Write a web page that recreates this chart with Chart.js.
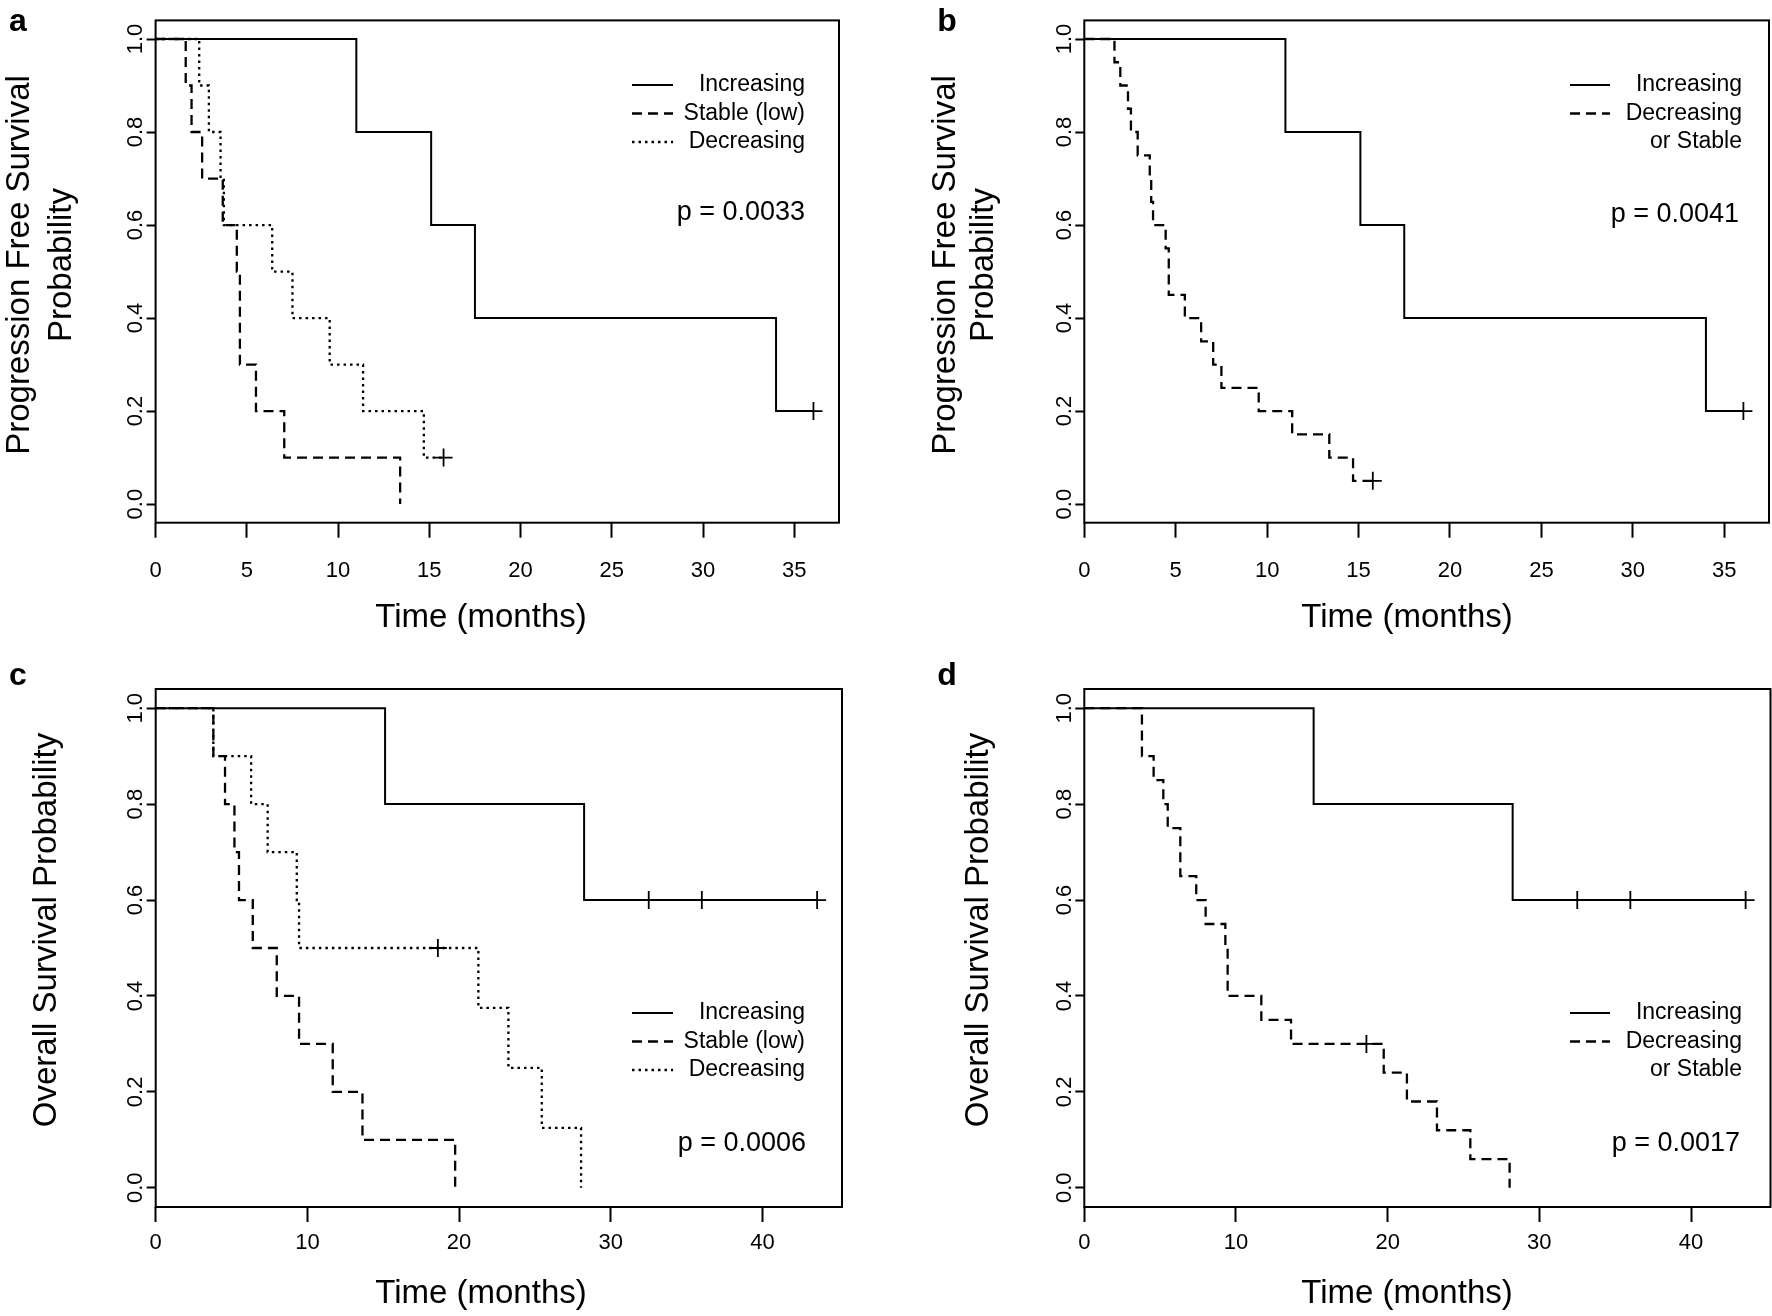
<!DOCTYPE html>
<html>
<head>
<meta charset="utf-8">
<title>Kaplan-Meier curves</title>
<script src="https://cdn.jsdelivr.net/npm/chart.js@4.4.1/dist/chart.umd.min.js"></script>
<style>
  html, body { margin: 0; padding: 0; background: #fff; }
  #wrap { position: relative; width: 1772px; height: 1316px; background: #fff; }
  .panel { position: absolute; width: 886px; height: 658px; }
  .panel canvas { display: block; }
</style>
</head>
<body>
<div id="wrap">
  <div class="panel" style="left:0;top:0"><canvas id="chart-a" width="886" height="658"></canvas></div>
  <div class="panel" style="left:886px;top:0"><canvas id="chart-b" width="886" height="658"></canvas></div>
  <div class="panel" style="left:0;top:658px"><canvas id="chart-c" width="886" height="658"></canvas></div>
  <div class="panel" style="left:886px;top:658px"><canvas id="chart-d" width="886" height="658"></canvas></div>
</div>
<script>
const FONT = "'Liberation Sans', Arial, Helvetica, sans-serif";

// tick labels
const pfsTicksX = [0, 5, 10, 15, 20, 25, 30, 35];
const osTicksX = [0, 10, 20, 30, 40];
const probTicks = [0, 0.2, 0.4, 0.6, 0.8, 1.0];

// group names
const groupInc = 'Increasing';
const groupStable = 'Stable (low)';
const groupDec = 'Decreasing';
const groupDecStable = 'Decreasing\nor Stable';

// a: progression free survival by group (months, survival after the step)
const pfsIncTime = [0, 11.0, 15.1, 17.5, 34.0, 36.05];
const pfsIncSurv = [1, 0.8, 0.6, 0.4, 0.2, 0.2];
const pfsIncCensorTime = [36.05];
const pfsIncCensorSurv = [0.2];

const pfsStableTime = [0, 1.65, 1.97, 2.55, 3.68, 4.45, 4.62, 5.5, 7.05, 13.4];
const pfsStableSurv = [1, 0.9, 0.8, 0.7, 0.6, 0.5, 0.3, 0.2, 0.1, 0.0];

const pfsDecTime = [0, 2.39, 2.92, 3.56, 3.74, 6.39, 7.5, 9.54, 11.37, 14.7, 15.78];
const pfsDecSurv = [1, 0.9, 0.8, 0.7, 0.6, 0.5, 0.4, 0.3, 0.2, 0.1, 0.1];
const pfsDecCensorTime = [15.78];
const pfsDecCensorSurv = [0.1];

// b: decreasing and stable pooled
const pfsPoolTime = [0, 1.65, 1.97, 2.39, 2.55, 2.92, 3.58, 3.66, 3.76, 4.45, 4.62, 5.5, 6.39, 7.05, 7.5, 9.54, 11.37, 13.4, 14.7, 15.78];
const pfsPoolSurv = [1, 0.95, 0.90, 0.85, 0.80, 0.75, 0.70, 0.65, 0.60, 0.55, 0.45, 0.40, 0.35, 0.30, 0.25, 0.20, 0.15, 0.10, 0.05, 0.05];
const pfsPoolCensorTime = [15.78];
const pfsPoolCensorSurv = [0.05];

// c: overall survival by group
const osIncTime = [0, 15.12, 28.24, 43.6];
const osIncSurv = [1, 0.8, 0.6, 0.6];
const osIncCensorTime = [32.5, 36.0, 43.6];
const osIncCensorSurv = [0.6, 0.6, 0.6];

const osStableTime = [0, 3.8, 4.57, 5.19, 5.49, 6.4, 7.98, 9.45, 11.67, 13.63, 19.74];
const osStableSurv = [1, 0.9, 0.8, 0.7, 0.6, 0.5, 0.4, 0.3, 0.2, 0.1, 0.0];

const osDecTime = [0, 3.8, 6.29, 7.38, 9.3, 9.45, 18.6, 21.27, 23.25, 25.45, 28.04];
const osDecSurv = [1, 0.9, 0.8, 0.7, 0.6, 0.5, 0.5, 0.375, 0.25, 0.125, 0.0];
const osDecCensorTime = [18.6];
const osDecCensorSurv = [0.5];

// d: decreasing and stable pooled
const osPoolTime = [0, 3.8, 4.57, 5.21, 5.5, 6.33, 7.38, 8.0, 9.3, 9.45, 11.67, 13.63, 18.6, 19.74, 21.27, 23.25, 25.45, 28.04];
const osPoolSurv = [1, 0.9, 0.85, 0.80, 0.75, 0.65, 0.60, 0.55, 0.50, 0.40, 0.35, 0.30, 0.30, 0.24, 0.18, 0.12, 0.06, 0.0];
const osPoolCensorTime = [18.6];
const osPoolCensorSurv = [0.30];

const pValues = ['p = 0.0033', 'p = 0.0041', 'p = 0.0006', 'p = 0.0017'];

const SOLID = [];
const DASHED = [10, 6];
const DOTTED = [2.5, 4];

function toPoints(time, surv) {
    return time.map((t, i) => ({ x: t, y: surv[i] }));
}

function drawText(ctx, str, x, y, font, align, angle) {
    ctx.save();
    ctx.translate(x, y);
    if (angle) ctx.rotate(angle);
    ctx.font = font;
    ctx.fillStyle = '#000';
    ctx.textAlign = align || 'center';
    ctx.textBaseline = 'middle';
    ctx.fillText(str, 0, 0);
    ctx.restore();
}

// box, titles, legend and p value drawn around the plot
const kmDecor = {
    id: 'kmDecor',
    afterDraw(chart, args, o) {
        const { ctx, chartArea: a } = chart;
        ctx.save();
        ctx.setLineDash([]);
        ctx.strokeStyle = '#000';
        ctx.lineWidth = 2;
        ctx.strokeRect(a.left, a.top, a.right - a.left, a.bottom - a.top);

        drawText(ctx, o.letter, o.letterX, o.letterY, 'bold 32px ' + FONT, 'center');
        drawText(ctx, 'Time (months)', o.xTitleX, o.xTitleY, '33px ' + FONT, 'center');
        o.yTitle.forEach((line, i) => {
            drawText(ctx, line, o.yTitleX[i], o.yTitleY, '33px ' + FONT, 'center', -Math.PI / 2);
        });

        // legend
        const lg = o.legend;
        let row = 0;
        chart.data.datasets.forEach(ds => {
            if (!ds.label) return;
            ds.label.split('\n').forEach((line, k) => {
                const y = lg.top + row * lg.rowH;
                if (k === 0) {
                    ctx.save();
                    ctx.strokeStyle = '#000';
                    ctx.lineWidth = ds.borderWidth;
                    ctx.setLineDash(ds.borderDash);
                    ctx.beginPath();
                    ctx.moveTo(lg.sampleLeft, y);
                    ctx.lineTo(lg.sampleRight, y);
                    ctx.stroke();
                    ctx.restore();
                }
                drawText(ctx, line, lg.right, y, '23px ' + FONT, 'right');
                row++;
            });
        });

        drawText(ctx, o.pText, o.pRight, o.pY, '27px ' + FONT, 'right');
        ctx.restore();
    }
};

function kmChart(id, cfg) {
    const W = 886, H = 658, Y_AXIS_W = 60, X_AXIS_H = 80;
    const datasets = cfg.curves.map(c => ({
        label: c.label,
        data: toPoints(c.time, c.surv),
        stepped: 'before',
        borderColor: '#000',
        borderWidth: c.dash.length ? 2.3 : 2,
        borderDash: c.dash,
        pointRadius: 0,
        fill: false
    }));
    datasets.push({
        type: 'scatter',
        data: cfg.censors.flatMap(c => toPoints(c.time, c.surv)),
        pointStyle: 'cross',
        pointRadius: 9,
        borderWidth: 1.8,
        borderColor: '#000',
        backgroundColor: '#000',
        showLine: false
    });

    return new Chart(document.getElementById(id), {
        type: 'line',
        data: { datasets },
        plugins: [kmDecor],
        options: {
            responsive: false,
            animation: false,
            events: [],
            devicePixelRatio: 1,
            layout: {
                autoPadding: false,
                padding: {
                    left: cfg.area.left - Y_AXIS_W,
                    top: cfg.area.top,
                    right: W - cfg.area.right,
                    bottom: H - cfg.area.bottom - X_AXIS_H
                }
            },
            scales: {
                x: {
                    type: 'linear',
                    min: 0,
                    max: cfg.xMax,
                    afterBuildTicks: ax => { ax.ticks = cfg.xTicks.map(v => ({ value: v })); },
                    afterFit: ax => { ax.height = X_AXIS_H; },
                    grid: { drawOnChartArea: false, tickLength: 15, tickWidth: 2, tickColor: '#000' },
                    border: { display: false },
                    ticks: {
                        color: '#000',
                        font: { family: FONT, size: 22 },
                        padding: cfg.xTickPad,
                        maxRotation: 0,
                        autoSkip: false,
                        callback: v => String(v)
                    }
                },
                y: {
                    type: 'linear',
                    min: -0.04,
                    max: 1.04,
                    afterBuildTicks: ax => { ax.ticks = probTicks.map(v => ({ value: v })); },
                    afterFit: ax => { ax.width = Y_AXIS_W; },
                    grid: { drawOnChartArea: false, tickLength: 9, tickWidth: 2, tickColor: '#000' },
                    border: { display: false },
                    ticks: {
                        color: '#000',
                        font: { family: FONT, size: 22 },
                        padding: -5,
                        minRotation: 90,
                        maxRotation: 90,
                        crossAlign: 'center',
                        autoSkip: false,
                        callback: v => v.toFixed(1)
                    }
                }
            },
            plugins: {
                legend: { display: false },
                tooltip: { enabled: false },
                kmDecor: cfg.decor
            }
        }
    });
}

kmChart('chart-a', {
    area: { left: 155.6, top: 20.4, right: 839, bottom: 522.7 },
    xMax: 37.45, xTicks: pfsTicksX, xTickPad: 20,
    curves: [
        { label: groupInc, time: pfsIncTime, surv: pfsIncSurv, dash: SOLID },
        { label: groupStable, time: pfsStableTime, surv: pfsStableSurv, dash: DASHED },
        { label: groupDec, time: pfsDecTime, surv: pfsDecSurv, dash: DOTTED }
    ],
    censors: [
        { time: pfsIncCensorTime, surv: pfsIncCensorSurv },
        { time: pfsDecCensorTime, surv: pfsDecCensorSurv }
    ],
    decor: {
        letter: 'a', letterX: 18, letterY: 22,
        xTitleX: 481, xTitleY: 618,
        yTitle: ['Progression Free Survival', 'Probability'], yTitleX: [20, 62], yTitleY: 265,
        legend: { right: 805, top: 85, rowH: 28.5, sampleLeft: 632, sampleRight: 673 },
        pText: pValues[0], pRight: 805, pY: 213
    }
});

kmChart('chart-b', {
    area: { left: 198.3, top: 20.4, right: 883, bottom: 522.7 },
    xMax: 37.45, xTicks: pfsTicksX, xTickPad: 20,
    curves: [
        { label: groupInc, time: pfsIncTime, surv: pfsIncSurv, dash: SOLID },
        { label: groupDecStable, time: pfsPoolTime, surv: pfsPoolSurv, dash: DASHED }
    ],
    censors: [
        { time: pfsIncCensorTime, surv: pfsIncCensorSurv },
        { time: pfsPoolCensorTime, surv: pfsPoolCensorSurv }
    ],
    decor: {
        letter: 'b', letterX: 61, letterY: 22,
        xTitleX: 521, xTitleY: 618,
        yTitle: ['Progression Free Survival', 'Probability'], yTitleX: [60, 98], yTitleY: 265,
        legend: { right: 856, top: 85, rowH: 28.5, sampleLeft: 684, sampleRight: 724 },
        pText: pValues[1], pRight: 853, pY: 215
    }
});

kmChart('chart-c', {
    area: { left: 155.7, top: 31, right: 842, bottom: 549 },
    xMax: 45.24, xTicks: osTicksX, xTickPad: 8,
    curves: [
        { label: groupInc, time: osIncTime, surv: osIncSurv, dash: SOLID },
        { label: groupStable, time: osStableTime, surv: osStableSurv, dash: DASHED },
        { label: groupDec, time: osDecTime, surv: osDecSurv, dash: DOTTED }
    ],
    censors: [
        { time: osIncCensorTime, surv: osIncCensorSurv },
        { time: osDecCensorTime, surv: osDecCensorSurv }
    ],
    decor: {
        letter: 'c', letterX: 18, letterY: 18,
        xTitleX: 481, xTitleY: 636,
        yTitle: ['Overall Survival Probability'], yTitleX: [47], yTitleY: 272,
        legend: { right: 805, top: 355, rowH: 28.5, sampleLeft: 632, sampleRight: 673 },
        pText: pValues[2], pRight: 806, pY: 486
    }
});

kmChart('chart-d', {
    area: { left: 198.3, top: 31, right: 884.5, bottom: 549 },
    xMax: 45.24, xTicks: osTicksX, xTickPad: 8,
    curves: [
        { label: groupInc, time: osIncTime, surv: osIncSurv, dash: SOLID },
        { label: groupDecStable, time: osPoolTime, surv: osPoolSurv, dash: DASHED }
    ],
    censors: [
        { time: osIncCensorTime, surv: osIncCensorSurv },
        { time: osPoolCensorTime, surv: osPoolCensorSurv }
    ],
    decor: {
        letter: 'd', letterX: 61, letterY: 18,
        xTitleX: 521, xTitleY: 636,
        yTitle: ['Overall Survival Probability'], yTitleX: [93], yTitleY: 272,
        legend: { right: 856, top: 355, rowH: 28.5, sampleLeft: 684, sampleRight: 724 },
        pText: pValues[3], pRight: 854, pY: 486
    }
});
</script>
</body>
</html>
